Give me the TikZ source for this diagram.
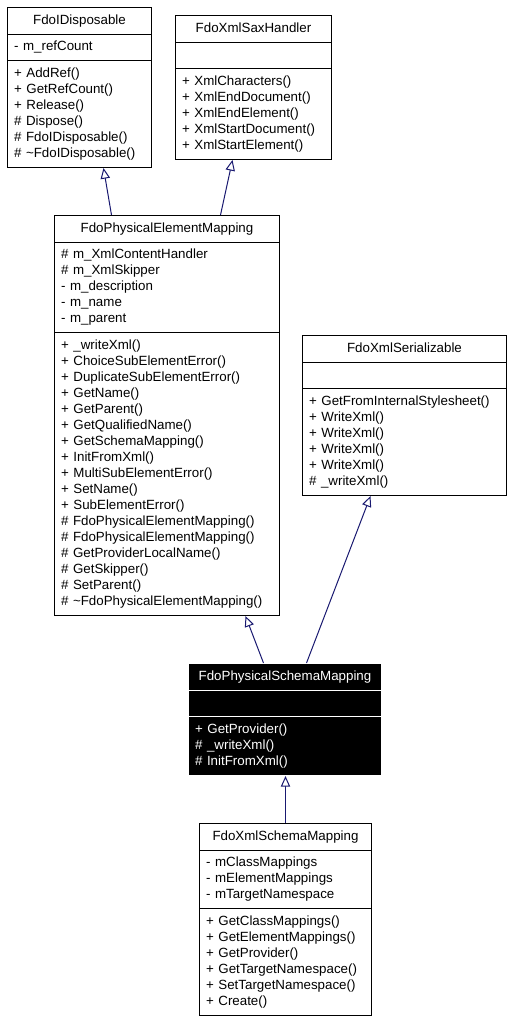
\documentclass[tikz,border=0pt]{standalone}
\usepackage{fontspec}
\setmainfont{Liberation Sans}
\usetikzlibrary{shapes.multipart,arrows.meta,calc}

\definecolor{edgeblue}{RGB}{25,25,112}

\begin{document}
\begin{tikzpicture}[x=0.75pt,y=-0.75pt,
    umlclass/.style={rectangle split, rectangle split parts=3, draw=black, fill=white,
      line width=0.75pt, anchor=north west, align=left,
      inner xsep=5pt, inner ysep=3.625pt, font=\fontsize{10}{12}\selectfont},
    thisclass/.style={umlclass, fill=black, draw=white, text=white},
    inherit/.style={draw=edgeblue, line width=0.75pt,
      -{Triangle[open,length=8pt,width=7pt,fill=white]}}]
  \useasboundingbox (0,0) rectangle (511,1021);

  % base classes
  \node[umlclass, text width=98pt] (disp) at (7,7)
    {\strut\hfill FdoIDisposable\hfill\null
     \nodepart{second}\strut - m\_refCount
     \nodepart{third}\strut + AddRef()\\
      \strut + GetRefCount()\\
      \strut + Release()\\
      \strut \# Dispose()\\
      \strut \# FdoIDisposable()\\
      \strut \# \textasciitilde FdoIDisposable()};
  \node[umlclass, text width=107pt] (sax) at (175,15)
    {\strut\hfill FdoXmlSaxHandler\hfill\null
     \nodepart{second}\strut
     \nodepart{third}\strut + XmlCharacters()\\
      \strut + XmlEndDocument()\\
      \strut + XmlEndElement()\\
      \strut + XmlStartDocument()\\
      \strut + XmlStartElement()};
  \node[umlclass, text width=158.75pt] (pem) at (54,215)
    {\strut\hfill FdoPhysicalElementMapping\hfill\null
     \nodepart{second}\strut \# m\_XmlContentHandler\\
      \strut \# m\_XmlSkipper\\
      \strut - m\_description\\
      \strut - m\_name\\
      \strut - m\_parent
     \nodepart{third}\strut + \_writeXml()\\
      \strut + ChoiceSubElementError()\\
      \strut + DuplicateSubElementError()\\
      \strut + GetName()\\
      \strut + GetParent()\\
      \strut + GetQualifiedName()\\
      \strut + GetSchemaMapping()\\
      \strut + InitFromXml()\\
      \strut + MultiSubElementError()\\
      \strut + SetName()\\
      \strut + SubElementError()\\
      \strut \# FdoPhysicalElementMapping()\\
      \strut \# FdoPhysicalElementMapping()\\
      \strut \# GetProviderLocalName()\\
      \strut \# GetSkipper()\\
      \strut \# SetParent()\\
      \strut \# \textasciitilde FdoPhysicalElementMapping()};
  \node[umlclass, text width=143pt] (ser) at (302,335)
    {\strut\hfill FdoXmlSerializable\hfill\null
     \nodepart{second}\strut
     \nodepart{third}\strut + GetFromInternalStylesheet()\\
      \strut + WriteXml()\\
      \strut + WriteXml()\\
      \strut + WriteXml()\\
      \strut + WriteXml()\\
      \strut \# \_writeXml()};

  % the class itself
  \node[thisclass, text width=134.75pt] (psm) at (188,663)
    {\strut\hfill FdoPhysicalSchemaMapping\hfill\null
     \nodepart{second}\strut
     \nodepart{third}\strut + GetProvider()\\
      \strut \# \_writeXml()\\
      \strut \# InitFromXml()};

  % derived class
  \node[umlclass, text width=119pt] (xsm) at (199,823)
    {\strut\hfill FdoXmlSchemaMapping\hfill\null
     \nodepart{second}\strut - mClassMappings\\
      \strut - mElementMappings\\
      \strut - mTargetNamespace
     \nodepart{third}\strut + GetClassMappings()\\
      \strut + GetElementMappings()\\
      \strut + GetProvider()\\
      \strut + GetTargetNamespace()\\
      \strut + SetTargetNamespace()\\
      \strut + Create()};

  \draw[inherit] ($(pem.north)+(-55.5,0)$) -- ($(disp.south)+(24,0)$);
  \draw[inherit] ($(pem.north)+(53.5,0)$) -- ($(sax.south)+(-21,0)$);
  \draw[inherit] ($(psm.north)+(-21.5,0)$) -- ($(pem.south)+(78.5,0)$);
  \draw[inherit] ($(psm.north)+(21.5,0)$) -- ($(ser.south)+(-34,0)$);
  \draw[inherit] (xsm.north) -- (xsm.north |- psm.south);
\end{tikzpicture}
\end{document}
